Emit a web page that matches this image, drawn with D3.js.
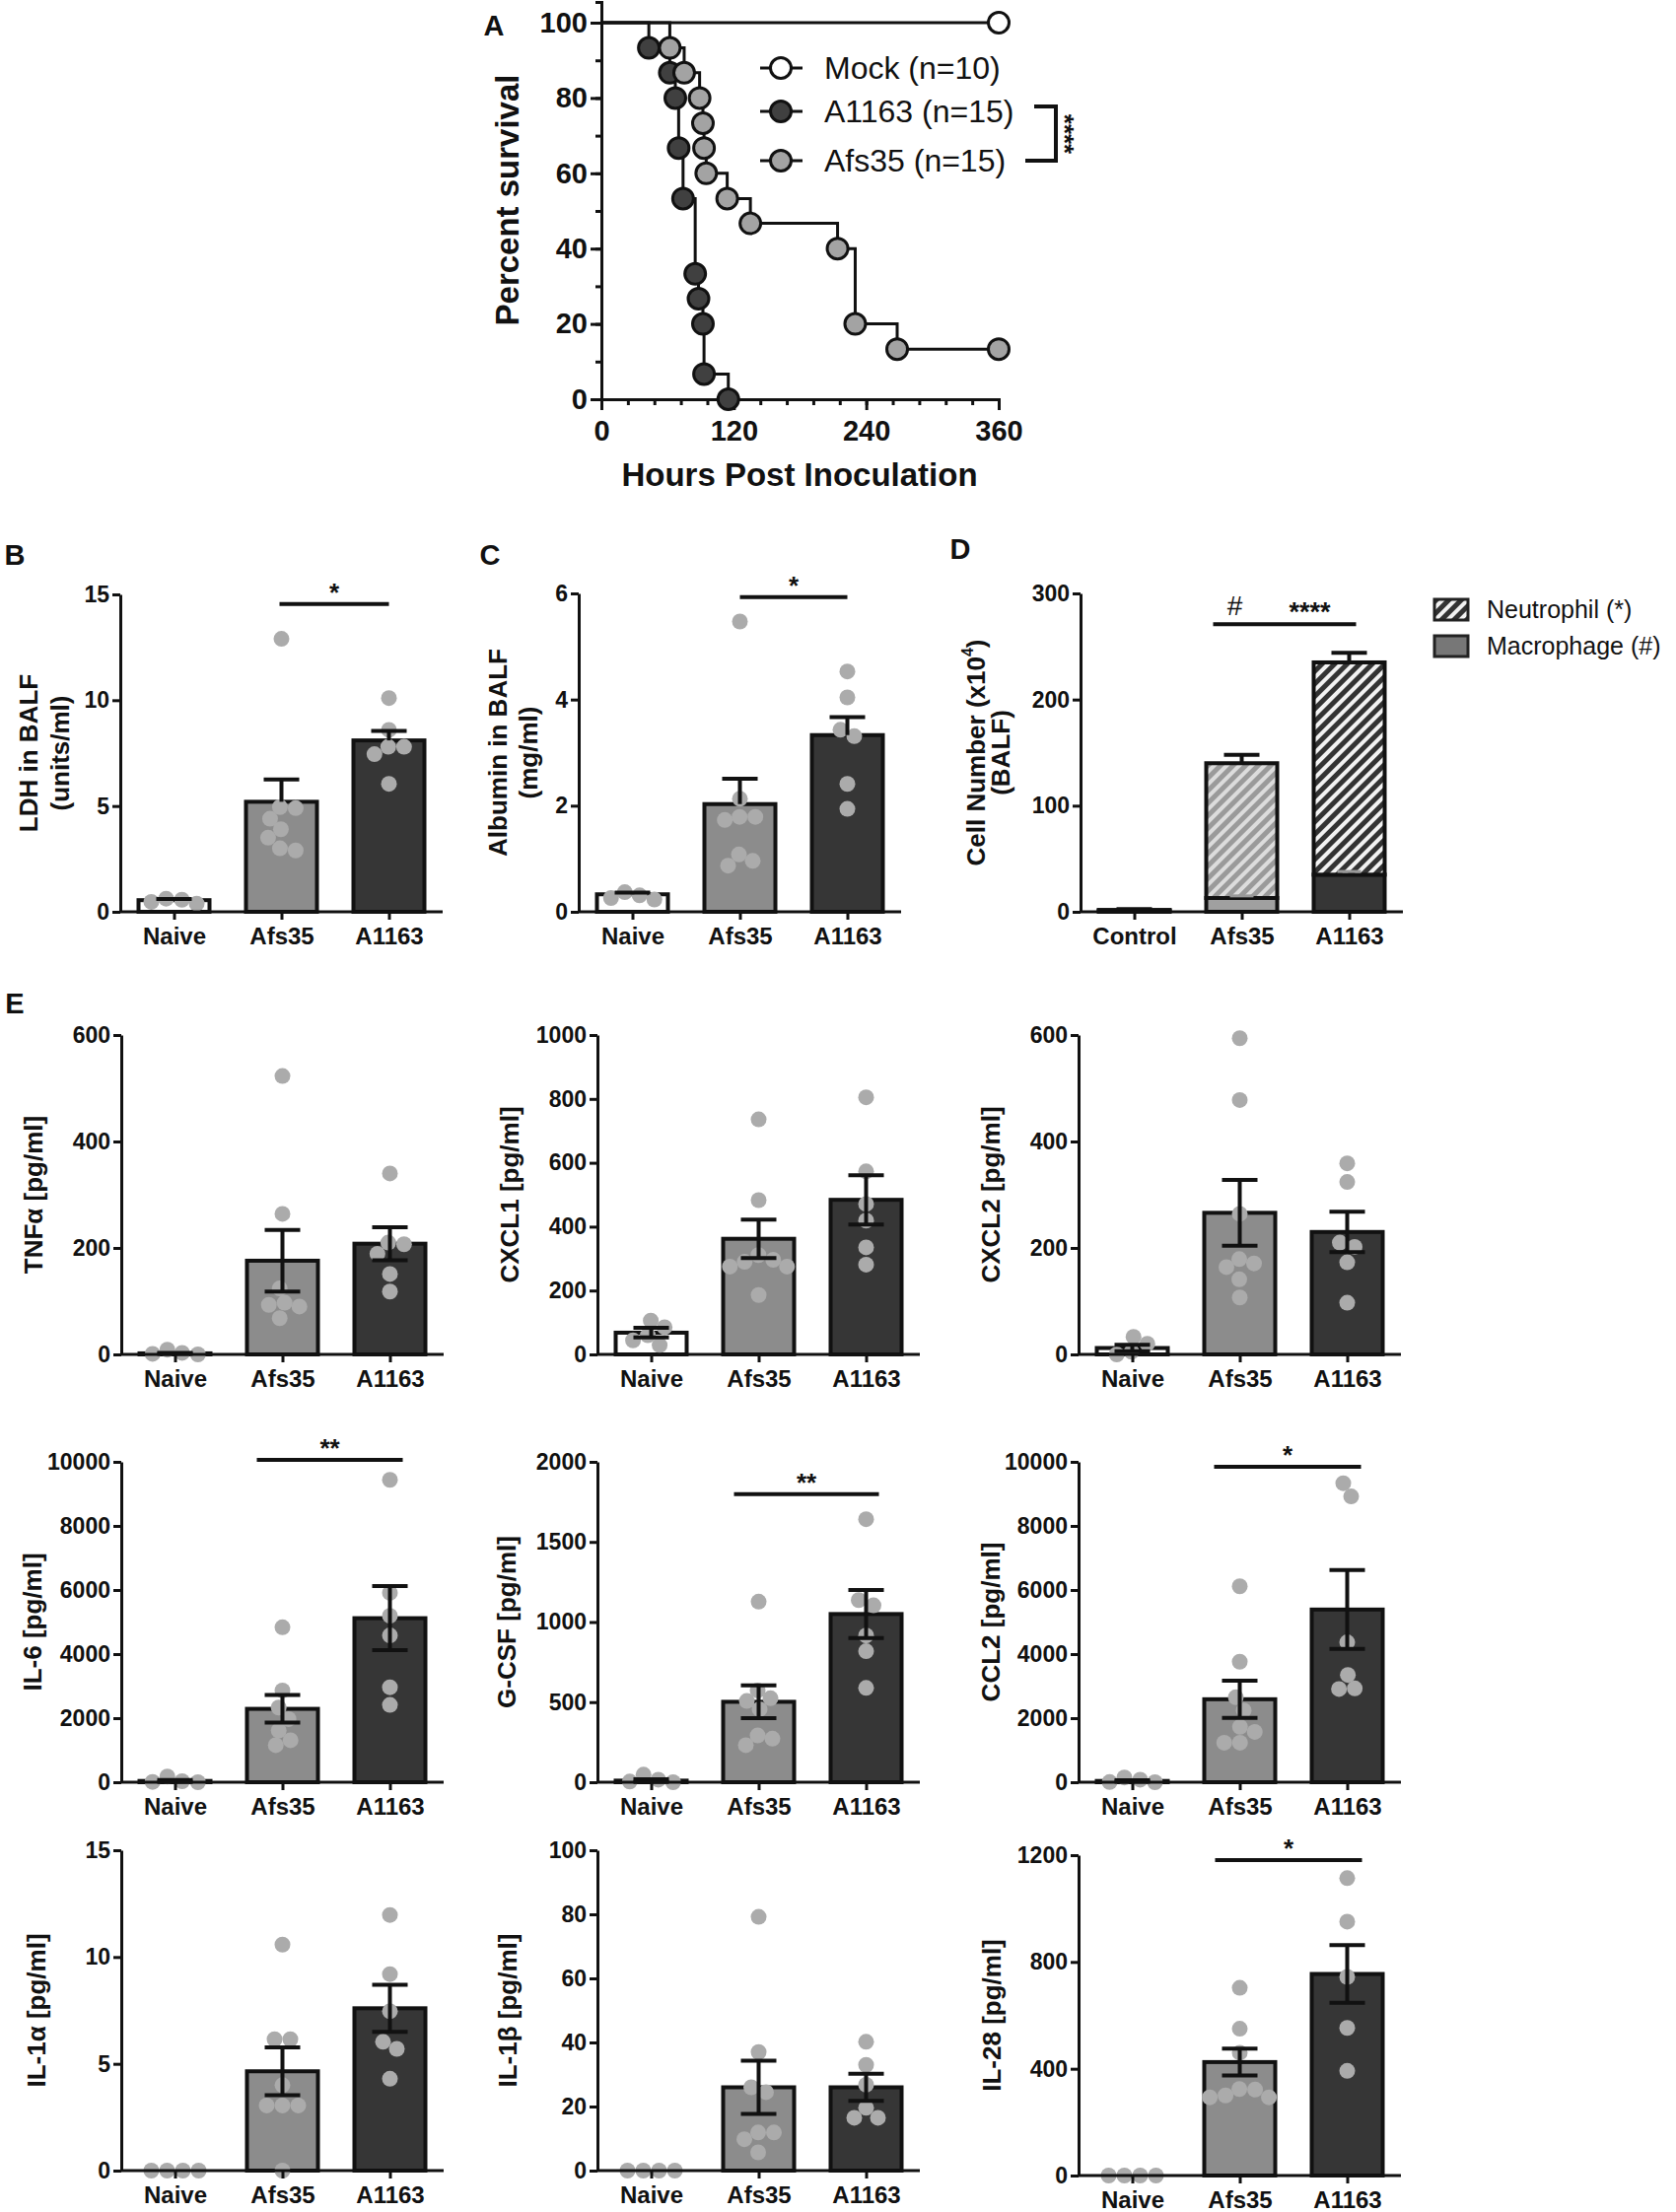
<!DOCTYPE html>
<html>
<head>
<meta charset="utf-8">
<script src="https://cdn.jsdelivr.net/npm/d3@7"></script>
<style>
body { margin: 0; background: #fff; }
text { font-family: "Liberation Sans", Arial, sans-serif; fill: #111; }
</style>
</head>
<body>
<svg id="fig" width="1700" height="2244"></svg>
<script>
// ---------- data: panel A (survival, hours vs percent) ----------
const mockSurv = [[0, 100], [360, 100]];
const a1163Surv = [[0, 100], [43, 93.3], [62, 86.7], [67, 80], [70, 66.7], [74, 53.3], [85, 33.3], [88, 26.7], [92, 20], [93, 6.7], [115, 0]];
const afs35Surv = [[0, 100], [62, 93.3], [75, 86.7], [89, 80], [92, 73.3], [93, 66.7], [95, 60], [114, 53.3], [135, 46.7], [214, 40], [230, 20], [268, 13.3], [360, 13.3]];
const survLegend = ['Mock (n=10)', 'A1163 (n=15)', 'Afs35 (n=15)'];
const survXTicks = [0, 120, 240, 360];
const survYTicks = [0, 20, 40, 60, 80, 100];

// ---------- data: bar panels ----------
const groups = ['Naive', 'Afs35', 'A1163'];
const cellGroups = ['Control', 'Afs35', 'A1163'];

// B  LDH
const ldhMean = [0.55, 5.2, 8.1];
const ldhSem = [0.05, 1.05, 0.45];
const ldhDots = [[0.57, 0.39, 0.47, 0.62], [12.9, 4.95, 4.9, 4.4, 3.9, 3.5, 3.0, 2.9], [10.1, 8.6, 7.8, 7.8, 7.45, 6.05]];
const ldhTicks = [0, 5, 10, 15];

// C  Albumin
const albMean = [0.33, 2.03, 3.33];
const albSem = [0.03, 0.48, 0.34];
const albDots = [[0.31, 0.23, 0.26, 0.37], [5.47, 2.13, 1.79, 1.79, 1.73, 1.08, 0.96, 0.87], [4.53, 4.04, 3.43, 3.31, 2.41, 1.94]];
const albTicks = [0, 2, 4, 6];

// D  cell numbers (stacked)
const macroMean = [1, 13, 35];
const neutroMean = [0.8, 127, 200];
const macroSem = [0, 2, 3];
const cellSem = [0.8, 8, 9];
const cellTicks = [0, 100, 200, 300];
const cellLegend = ['Neutrophil (*)', 'Macrophage (#)'];

// E  cytokines
const tnfMean = [2, 176, 208], tnfSem = [1, 58, 31];
const tnfDots = [[3, 0, 1, 9], [523, 264, 124, 97, 93, 90, 68], [340, 210, 207, 189, 151, 118]];
const tnfTicks = [0, 200, 400, 600];

const cxcl1Mean = [68, 362, 484], cxcl1Sem = [15, 60, 77];
const cxcl1Dots = [[106, 85, 60, 44, 29], [736, 483, 311, 296, 290, 275, 275, 186], [805, 573, 471, 419, 335, 281]];
const cxcl1Ticks = [0, 200, 400, 600, 800, 1000];

const cxcl2Mean = [12, 266, 230], cxcl2Sem = [6, 62, 38];
const cxcl2Dots = [[33, 20, 5, 0], [594, 478, 264, 179, 171, 164, 141, 107], [359, 324, 210, 202, 173, 97]];
const cxcl2Ticks = [0, 200, 400, 600];

const il6Mean = [40, 2290, 5120], il6Sem = [30, 430, 1000];
const il6Dots = [[180, 30, 10, 0], [4836, 2863, 2331, 1973, 1616, 1309, 1155], [9438, 5910, 5194, 4581, 2965, 2413]];
const il6Ticks = [0, 2000, 4000, 6000, 8000, 10000];

const gcsfMean = [10, 502, 1050], gcsfSem = [8, 102, 150];
const gcsfDots = [[47, 16, 4, 0], [1127, 573, 524, 507, 456, 292, 272, 231], [1642, 1137, 1104, 916, 818, 589]];
const gcsfTicks = [0, 500, 1000, 1500, 2000];

const ccl2Mean = [40, 2590, 5390], ccl2Sem = [25, 580, 1230];
const ccl2Dots = [[150, 80, 5, 0], [6115, 3762, 2652, 2240, 1727, 1572, 1233, 1233], [9332, 8921, 4368, 3350, 2929, 2909]];
const ccl2Ticks = [0, 2000, 4000, 6000, 8000, 10000];

const il1aMean = [0, 4.65, 7.6], il1aSem = [0, 1.12, 1.1];
const il1aDots = [[0, 0, 0, 0], [10.58, 6.15, 6.15, 4.0, 3.05, 3.05, 3.05, 0], [11.97, 9.2, 7.46, 6.03, 5.7, 4.3]];
const il1aTicks = [0, 5, 10, 15];

const il1bMean = [0, 26, 26], il1bSem = [0, 8.3, 4.2];
const il1bDots = [[0, 0, 0, 0], [79.2, 37, 26, 24.5, 11.9, 11.9, 9.8, 5.7], [40.2, 33, 26.8, 19.6, 16.5, 16.5]];
const il1bTicks = [0, 20, 40, 60, 80, 100];

const il28Mean = [0, 425, 755], il28Sem = [0, 50, 108];
const il28Dots = [[0, 0, 0, 0], [703, 550, 460, 324, 322, 300, 293, 293], [1114, 951, 744, 553, 392]];
const il28Ticks = [0, 400, 800, 1200];

// significance: [from, to, label]
const ldhSig = ['Afs35', 'A1163', '*'];
const albSig = ['Afs35', 'A1163', '*'];
const il6Sig = ['Afs35', 'A1163', '**'];
const gcsfSig = ['Afs35', 'A1163', '**'];
const ccl2Sig = ['Afs35', 'A1163', '*'];
const il28Sig = ['Afs35', 'A1163', '*'];

// ---------- drawing ----------
const svg = d3.select('#fig');
const AXIS_LEN = 327;
const BAR_W = 72;
const DOT_R = 8;
const barFill = ['#ffffff', '#8c8c8c', '#363636'];
const dotFill = '#ababab';

const defs = svg.append('defs');
function hatch(id, stripe, bg) {
    const p = defs.append('pattern')
        .attr('id', id)
        .attr('patternUnits', 'userSpaceOnUse')
        .attr('width', 9).attr('height', 9)
        .attr('patternTransform', 'rotate(45)');
    p.append('rect').attr('width', 9).attr('height', 9).attr('fill', bg);
    p.append('rect').attr('width', 5).attr('height', 9).attr('fill', stripe);
}
hatch('hatchLight', '#9a9a9a', '#dcdcdc');
hatch('hatchDark', '#333333', '#f2f2f2');

function styleAxis(g, w) {
    g.select('.domain').attr('stroke', '#111').attr('stroke-width', w);
    g.selectAll('.tick line').attr('stroke', '#111').attr('stroke-width', w);
}

// simple beeswarm: place dots top-down, then centre every touching cluster
function swarm(vals, y) {
    const minD = DOT_R * 2 * 0.95;
    const pts = vals.map(v => ({ v: v, py: y(v), dx: 0 })).sort((a, b) => a.py - b.py);
    const placed = [];
    pts.forEach(p => {
        for (let k = 0; k < 300; k++) {
            const cands = k === 0 ? [0] : [k, -k];
            const hit = cands.find(c => placed.every(q => Math.hypot(q.dx - c, q.py - p.py) >= minD));
            if (hit !== undefined) { p.dx = hit; break; }
        }
        placed.push(p);
    });
    const seen = new Set();
    pts.forEach(p => {
        if (seen.has(p)) return;
        const comp = [p];
        seen.add(p);
        for (let i = 0; i < comp.length; i++) {
            pts.forEach(q => {
                if (!seen.has(q) && Math.abs(q.py - comp[i].py) < minD && Math.abs(q.dx - comp[i].dx) < minD * 1.2) {
                    seen.add(q);
                    comp.push(q);
                }
            });
        }
        const m = d3.mean(comp, d => d.dx);
        comp.forEach(d => { d.dx -= m; });
    });
    return pts;
}

function yTitle(g, p, y) {
    const cy = (p.top + p.bottom) / 2;
    p.title.forEach((t, i) => {
        const tx = g.append('text')
            .attr('transform', `translate(${p.left - p.titleOff[i]},${cy}) rotate(-90)`)
            .attr('text-anchor', 'middle')
            .attr('dominant-baseline', 'central')
            .style('font-size', '26px')
            .style('font-weight', 'bold');
        if (t.indexOf('^4') >= 0) {
            const parts = t.split('^4');
            tx.append('tspan').text(parts[0]);
            tx.append('tspan').attr('dy', -9).style('font-size', '16px').text('4');
            tx.append('tspan').attr('dy', 9).text(parts[1]);
        } else {
            tx.text(t);
        }
    });
}

function drawAxes(g, p, x, y) {
    const ya = g.append('g')
        .attr('transform', `translate(${p.left},0)`)
        .call(d3.axisLeft(y).tickValues(p.ticks).tickSize(8).tickSizeOuter(0).tickPadding(3).tickFormat(d3.format('d')));
    styleAxis(ya, 3);
    ya.selectAll('text').style('font-size', '23px').style('font-weight', 'bold');

    const xa = g.append('g')
        .attr('transform', `translate(0,${p.bottom})`)
        .call(d3.axisBottom(x).tickSize(8).tickSizeOuter(0).tickPadding(8));
    styleAxis(xa, 3);
    xa.select('.domain').attr('d', `M${p.left},0H${p.left + AXIS_LEN}`);
    xa.selectAll('text').style('font-size', '24px').style('font-weight', 'bold');
}

function errBar(g, cx, y0, y1, color) {
    g.append('line').attr('x1', cx).attr('x2', cx).attr('y1', y0).attr('y2', y1)
        .attr('stroke', color).attr('stroke-width', 4);
}
function errCap(g, cx, yy, color) {
    g.append('line').attr('x1', cx - 18).attr('x2', cx + 18).attr('y1', yy).attr('y2', yy)
        .attr('stroke', color).attr('stroke-width', 4);
}

function drawSig(g, p, x, y) {
    if (!p.sig) return;
    const [a, b, label] = p.sig;
    const ly = y(p.sigLevel);
    g.append('line')
        .attr('x1', x(a) - p.sigPad[0]).attr('x2', x(b) + p.sigPad[1])
        .attr('y1', ly).attr('y2', ly)
        .attr('stroke', '#111').attr('stroke-width', 4);
    g.append('text')
        .attr('x', (x(a) - p.sigPad[0] + x(b) + p.sigPad[1]) / 2)
        .attr('y', ly - 3)
        .attr('text-anchor', 'middle')
        .style('font-size', '26px').style('font-weight', 'bold')
        .text(label);
}

function barPanel(p) {
    const g = svg.append('g');
    const y = d3.scaleLinear().domain([0, p.max]).range([p.bottom, p.top]);
    const x = d3.scalePoint().domain(p.cats).range([p.left, p.left + AXIS_LEN]).padding(0.5);

    p.cats.forEach((c, i) => {
        if (p.mean[i] > 0) {
            g.append('rect')
                .attr('x', x(c) - BAR_W / 2).attr('y', y(p.mean[i]))
                .attr('width', BAR_W).attr('height', y(0) - y(p.mean[i]))
                .attr('fill', barFill[i]).attr('stroke', '#111').attr('stroke-width', 4);
        }
    });

    p.cats.forEach((c, i) => {
        const pts = swarm(p.dots[i], y);
        g.selectAll(null).data(pts).enter().append('circle')
            .attr('cx', d => x(c) + d.dx).attr('cy', d => d.py)
            .attr('r', DOT_R).attr('fill', dotFill);
    });

    p.cats.forEach((c, i) => {
        if (p.mean[i] <= 0) return;
        const top = y(p.mean[i] + p.sem[i]);
        if (p.errMode === 'up') {
            errBar(g, x(c), y(p.mean[i]), top, '#111');
            errCap(g, x(c), top, '#111');
        } else {
            const bot = y(Math.max(0, p.mean[i] - p.sem[i]));
            errBar(g, x(c), bot, top, '#111');
            errCap(g, x(c), top, '#111');
            errCap(g, x(c), bot, '#111');
        }
    });

    drawAxes(g, p, x, y);
    yTitle(g, p, y);
    drawSig(g, p, x, y);
}

function cellPanel(p) {
    const g = svg.append('g');
    const y = d3.scaleLinear().domain([0, p.max]).range([p.bottom, p.top]);
    const x = d3.scalePoint().domain(p.cats).range([p.left, p.left + AXIS_LEN]).padding(0.5);
    const macroFill = ['#555555', '#a0a0a0', '#363636'];
    const neutroFill = ['#555555', 'url(#hatchLight)', 'url(#hatchDark)'];

    p.cats.forEach((c, i) => {
        const total = macroMean[i] + neutroMean[i];
        errBar(g, x(c), y(total), y(total + cellSem[i]), '#111');
        errCap(g, x(c), y(total + cellSem[i]), '#111');
        g.append('rect')
            .attr('x', x(c) - BAR_W / 2).attr('y', y(macroMean[i]))
            .attr('width', BAR_W).attr('height', y(0) - y(macroMean[i]))
            .attr('fill', macroFill[i]).attr('stroke', '#111').attr('stroke-width', 4);
        g.append('rect')
            .attr('x', x(c) - BAR_W / 2).attr('y', y(total))
            .attr('width', BAR_W).attr('height', y(macroMean[i]) - y(total))
            .attr('fill', neutroFill[i]).attr('stroke', '#111').attr('stroke-width', 4);
        if (macroSem[i] > 0) {
            g.append('line')
                .attr('x1', x(c) - 12).attr('x2', x(c) + 12)
                .attr('y1', y(macroMean[i] + macroSem[i])).attr('y2', y(macroMean[i] + macroSem[i]))
                .attr('stroke', '#999').attr('stroke-width', 3);
        }
    });

    drawAxes(g, p, x, y);
    yTitle(g, p, y);

    // significance bar with two labels
    const ly = y(p.sigLevel);
    g.append('line')
        .attr('x1', x('Afs35') - 29).attr('x2', x('A1163') + 7)
        .attr('y1', ly).attr('y2', ly)
        .attr('stroke', '#111').attr('stroke-width', 4);
    g.append('text').attr('x', x('Afs35') - 7).attr('y', ly - 9)
        .attr('text-anchor', 'middle').style('font-size', '28px').text('#');
    g.append('text').attr('x', x('Afs35') + 69).attr('y', ly - 3)
        .attr('text-anchor', 'middle').style('font-size', '27px').style('font-weight', 'bold').text('****');

    // legend
    const lx = p.left + 359;
    cellLegend.forEach((t, i) => {
        const ly2 = p.top + 16 + i * 37;
        g.append('rect')
            .attr('x', lx).attr('y', ly2 - 10)
            .attr('width', 34).attr('height', 21)
            .attr('fill', i === 0 ? 'url(#hatchDark)' : '#777')
            .attr('stroke', '#222').attr('stroke-width', 3);
        g.append('text')
            .attr('x', lx + 53).attr('y', ly2)
            .attr('dominant-baseline', 'central')
            .style('font-size', '25px')
            .text(t);
    });
}

// ---------- panel A ----------
(function survivalPanel() {
    const g = svg.append('g');
    const x = d3.scaleLinear().domain([0, 360]).range([610, 1013]);
    const y = d3.scaleLinear().domain([0, 105.5]).range([405, 2]);

    const xMinor = g.append('g').attr('transform', 'translate(0,405)')
        .call(d3.axisBottom(x).tickValues(d3.range(0, 361, 24)).tickSize(6).tickFormat(''));
    styleAxis(xMinor, 3);
    const xa = g.append('g').attr('transform', 'translate(0,405)')
        .call(d3.axisBottom(x).tickValues(survXTicks).tickSize(11).tickSizeOuter(0).tickPadding(10));
    styleAxis(xa, 3);
    xa.selectAll('text').style('font-size', '29px').style('font-weight', 'bold');

    const yMinor = g.append('g').attr('transform', 'translate(610,0)')
        .call(d3.axisLeft(y).tickValues(d3.range(0, 101, 10)).tickSize(6).tickFormat(''));
    styleAxis(yMinor, 3);
    const ya = g.append('g').attr('transform', 'translate(610,0)')
        .call(d3.axisLeft(y).tickValues(survYTicks).tickSize(11).tickSizeOuter(0).tickPadding(3));
    styleAxis(ya, 3);
    ya.selectAll('text').style('font-size', '29px').style('font-weight', 'bold');

    g.append('text')
        .attr('x', 811).attr('y', 481)
        .attr('text-anchor', 'middle').attr('dominant-baseline', 'central')
        .style('font-size', '33px').style('font-weight', 'bold')
        .text('Hours Post Inoculation');
    g.append('text')
        .attr('transform', 'translate(514,203) rotate(-90)')
        .attr('text-anchor', 'middle').attr('dominant-baseline', 'central')
        .style('font-size', '33px').style('font-weight', 'bold')
        .text('Percent survival');

    const line = d3.line().x(d => x(d[0])).y(d => y(d[1])).curve(d3.curveStepAfter);
    const series = [
        { data: mockSurv, fill: '#ffffff', marks: mockSurv.slice(1) },
        { data: a1163Surv, fill: '#404040', marks: a1163Surv.slice(1) },
        { data: afs35Surv, fill: '#a3a3a3', marks: afs35Surv.slice(1) }
    ];
    series.forEach(s => {
        g.append('path').attr('d', line(s.data))
            .attr('fill', 'none').attr('stroke', '#111').attr('stroke-width', 3);
    });
    series.forEach(s => {
        g.selectAll(null).data(s.marks).enter().append('circle')
            .attr('cx', d => x(d[0])).attr('cy', d => y(d[1]))
            .attr('r', 10.5).attr('fill', s.fill)
            .attr('stroke', '#111').attr('stroke-width', 3);
    });

    // legend
    const legY = [69, 113, 163];
    series.forEach((s, i) => {
        g.append('line').attr('x1', 771).attr('x2', 814).attr('y1', legY[i]).attr('y2', legY[i])
            .attr('stroke', '#111').attr('stroke-width', 3);
        g.append('circle').attr('cx', 792).attr('cy', legY[i]).attr('r', 10.5)
            .attr('fill', s.fill).attr('stroke', '#111').attr('stroke-width', 3);
        g.append('text').attr('x', 836).attr('y', legY[i])
            .attr('dominant-baseline', 'central')
            .style('font-size', '32px')
            .text(survLegend[i]);
    });
    // bracket between A1163 and Afs35
    g.append('path')
        .attr('d', 'M1049,108H1071V163H1040')
        .attr('fill', 'none').attr('stroke', '#111').attr('stroke-width', 4);
    g.append('text')
        .attr('transform', 'translate(1080,136) rotate(90)')
        .attr('text-anchor', 'middle').attr('dominant-baseline', 'central')
        .style('font-size', '26px').style('font-weight', 'bold')
        .text('****');
})();

// ---------- bar panels ----------
const col = [123, 606, 1094];
const rows = [[1050, 1374], [1483, 1808], [1877, 2202]];

const panels = [
    { cats: groups, mean: ldhMean, sem: ldhSem, dots: ldhDots, ticks: ldhTicks, max: 15,
      left: 122, top: 603, bottom: 925, title: ['LDH in BALF', '(units/ml)'], titleOff: [93, 61],
      sig: ldhSig, sigLevel: 14.55, sigPad: [2, 0], errMode: 'up' },
    { cats: groups, mean: albMean, sem: albSem, dots: albDots, ticks: albTicks, max: 6,
      left: 587, top: 602, bottom: 925, title: ['Albumin in BALF', '(mg/ml)'], titleOff: [82, 51],
      sig: albSig, sigLevel: 5.93, sigPad: [0, 0], errMode: 'up' },
    { cats: groups, mean: tnfMean, sem: tnfSem, dots: tnfDots, ticks: tnfTicks, max: 600,
      left: col[0], top: rows[0][0], bottom: rows[0][1], title: ['TNF\u03b1 [pg/ml]'], titleOff: [89] },
    { cats: groups, mean: cxcl1Mean, sem: cxcl1Sem, dots: cxcl1Dots, ticks: cxcl1Ticks, max: 1000,
      left: col[1], top: rows[0][0], bottom: rows[0][1], title: ['CXCL1 [pg/ml]'], titleOff: [89] },
    { cats: groups, mean: cxcl2Mean, sem: cxcl2Sem, dots: cxcl2Dots, ticks: cxcl2Ticks, max: 600,
      left: col[2], top: rows[0][0], bottom: rows[0][1], title: ['CXCL2 [pg/ml]'], titleOff: [89] },
    { cats: groups, mean: il6Mean, sem: il6Sem, dots: il6Dots, ticks: il6Ticks, max: 10000,
      left: col[0], top: rows[1][0], bottom: rows[1][1], title: ['IL-6 [pg/ml]'], titleOff: [90],
      sig: il6Sig, sigLevel: 10060, sigPad: [26, 13] },
    { cats: groups, mean: gcsfMean, sem: gcsfSem, dots: gcsfDots, ticks: gcsfTicks, max: 2000,
      left: col[1], top: rows[1][0], bottom: rows[1][1], title: ['G-CSF [pg/ml]'], titleOff: [92],
      sig: gcsfSig, sigLevel: 1798, sigPad: [25, 13] },
    { cats: groups, mean: ccl2Mean, sem: ccl2Sem, dots: ccl2Dots, ticks: ccl2Ticks, max: 10000,
      left: col[2], top: rows[1][0], bottom: rows[1][1], title: ['CCL2 [pg/ml]'], titleOff: [89],
      sig: ccl2Sig, sigLevel: 9850, sigPad: [26, 14] },
    { cats: groups, mean: il1aMean, sem: il1aSem, dots: il1aDots, ticks: il1aTicks, max: 15,
      left: col[0], top: rows[2][0], bottom: rows[2][1], title: ['IL-1\u03b1 [pg/ml]'], titleOff: [86] },
    { cats: groups, mean: il1bMean, sem: il1bSem, dots: il1bDots, ticks: il1bTicks, max: 100,
      left: col[1], top: rows[2][0], bottom: rows[2][1], title: ['IL-1\u03b2 [pg/ml]'], titleOff: [91] },
    { cats: groups, mean: il28Mean, sem: il28Sem, dots: il28Dots, ticks: il28Ticks, max: 1200,
      left: col[2], top: 1882, bottom: 2207, title: ['IL-28 [pg/ml]'], titleOff: [88],
      sig: il28Sig, sigLevel: 1182, sigPad: [25, 15] }
];
panels.forEach(p => barPanel(p));

cellPanel({ cats: cellGroups, ticks: cellTicks, max: 300, left: 1096, top: 602, bottom: 925,
    title: ['Cell Number (x10^4)', '(BALF)'], titleOff: [106, 81], sigLevel: 271 });

// ---------- panel letters ----------
const letters = [['A', 501, 26], ['B', 15, 563], ['C', 497, 563], ['D', 974, 557], ['E', 15, 1018]];
svg.selectAll('.letter').data(letters).enter().append('text')
    .attr('class', 'letter')
    .attr('x', d => d[1]).attr('y', d => d[2])
    .attr('text-anchor', 'middle').attr('dominant-baseline', 'central')
    .style('font-size', '29px').style('font-weight', 'bold')
    .text(d => d[0]);
</script>
</body>
</html>
